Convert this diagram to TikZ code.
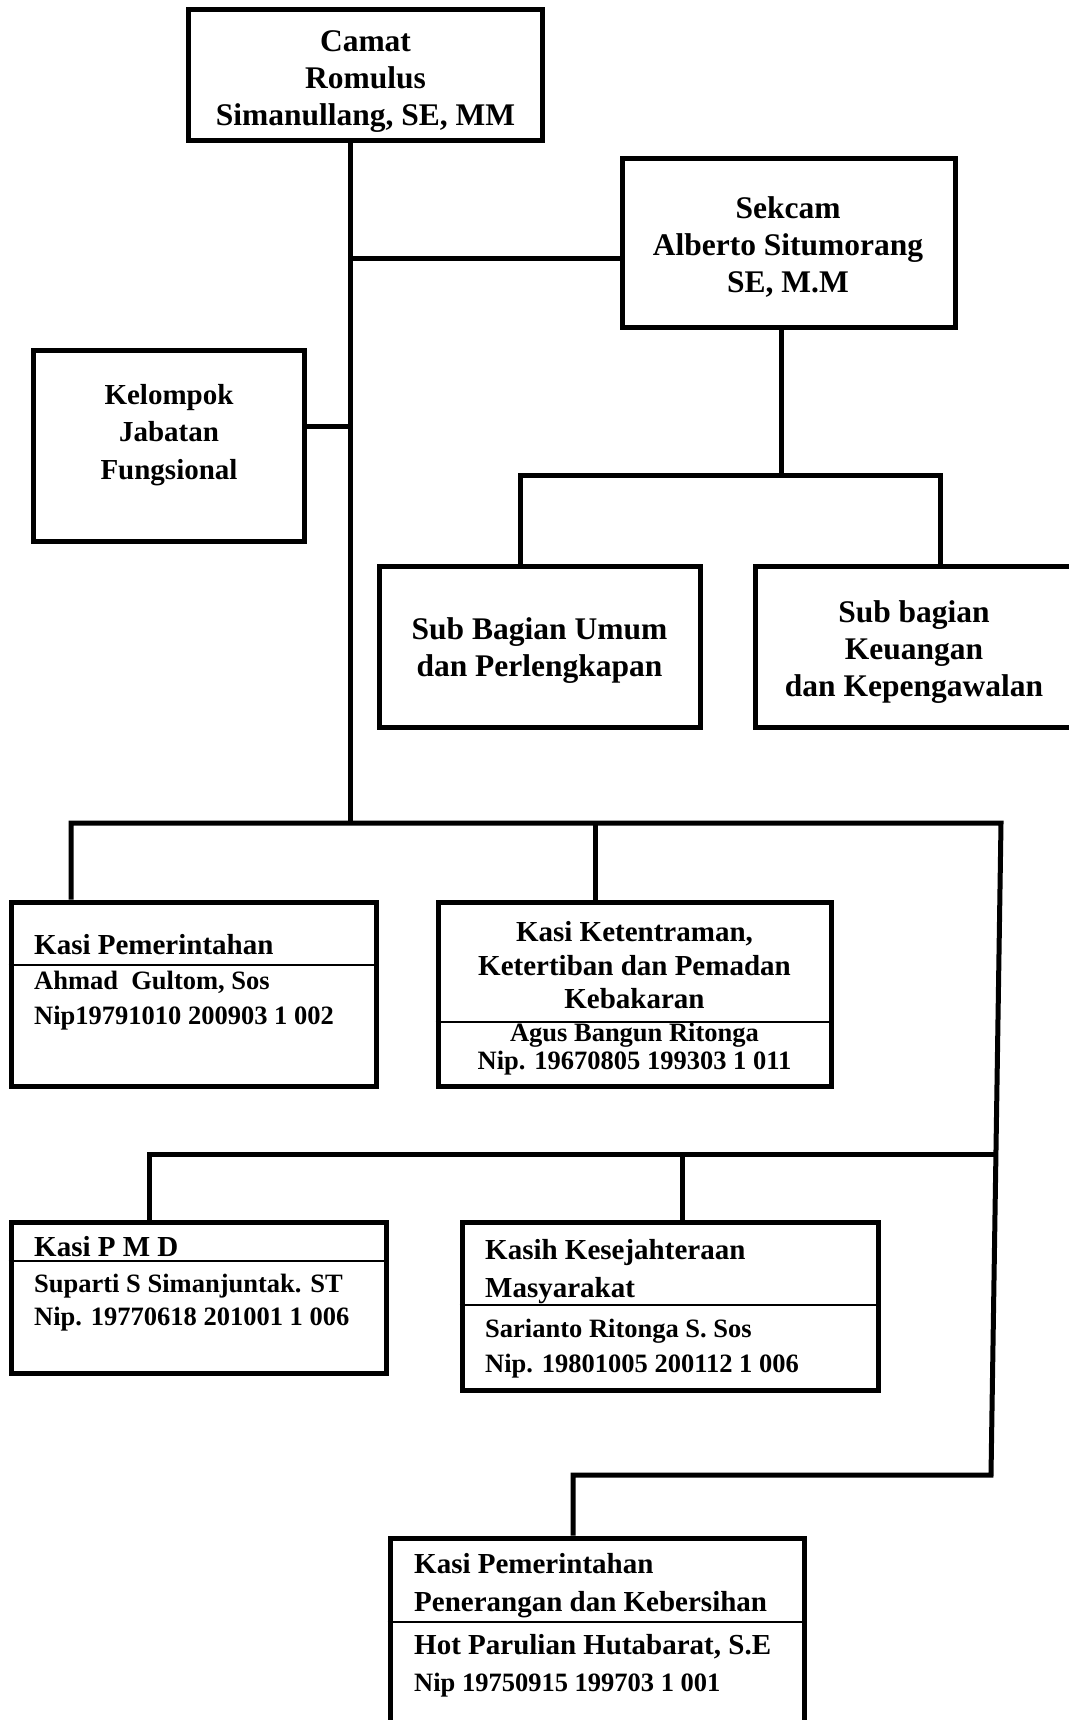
\documentclass[tikz,border=0pt]{standalone}
\usepackage{fontspec}
\setmainfont{Liberation Serif}
\usepackage{tikz}
\usetikzlibrary{positioning,calc}

\begin{document}
\begin{tikzpicture}[
  x=1pt, y=-1pt,
  every node/.style={font=\bfseries},
  box/.style={draw, line width=5pt, inner sep=0pt},
  link/.style={line width=5pt},
  sep/.style={line width=2pt},
  head/.style={font=\fontsize{31.5}{37}\selectfont\bfseries, align=center},
  ttl/.style={font=\fontsize{29}{38}\selectfont\bfseries, inner sep=0pt, anchor=base west, align=left},
  nip/.style={font=\fontsize{26.5}{35}\selectfont\bfseries, inner sep=0pt, anchor=base west, align=left}
]
  \useasboundingbox (0,0) rectangle (1068,1720);

  \node[box, minimum width=353.5pt, minimum height=131pt] (camat) at (365.5,75.5) {};
  \node[head] (camatT) at (365.5,82) {Camat\\Romulus\\Simanullang, SE, MM};
  \node[box, minimum width=333pt, minimum height=168pt] (sekcam) at (788.5,243) {};
  \node[head] (sekcamT) at (788,247.5) {Sekcam\\Alberto Situmorang\\SE, M.M};
  \node[box, minimum width=271pt, minimum height=191pt] (kel) at (168.5,445.5) {};
  \node[head, font=\fontsize{29}{37.5}\selectfont\bfseries] (kelT) at (169,435) {Kelompok\\Jabatan\\Fungsional};
  \node[box, minimum width=321pt, minimum height=161pt] (umum) at (539.5,646.5) {};
  \node[head] (umumT) at (539.5,651) {Sub Bagian Umum\\dan Perlengkapan};
  \node[box, minimum width=320pt, minimum height=161pt] (keu) at (915,646.5) {};
  \node[head] (keuT) at (914,652) {Sub bagian\\Keuangan\\dan Kepengawalan};

  \node[box, minimum width=365pt, minimum height=184pt] (pem) at (193.5,994) {};
  \node[box, minimum width=393pt, minimum height=184pt] (ket) at (634.5,994) {};
  \node[box, minimum width=375pt, minimum height=151pt] (pmd) at (198.5,1297.5) {};
  \node[box, minimum width=416pt, minimum height=168pt] (kes) at (670,1306) {};
  \node[box, minimum width=414pt, minimum height=192pt] (ppk) at (597,1634) {};

  \draw[sep] (pem.west |- 0,965) -- (pem.east |- 0,965);
  \draw[sep] (ket.west |- 0,1022) -- (ket.east |- 0,1022);
  \draw[sep] (pmd.west |- 0,1261) -- (pmd.east |- 0,1261);
  \draw[sep] (kes.west |- 0,1305) -- (kes.east |- 0,1305);
  \draw[sep] (ppk.west |- 0,1622) -- (ppk.east |- 0,1622);

  \node[ttl] (pemT) at (34,954.5) {Kasi Pemerintahan};
  \node[nip] (pemN) at (34,1024.7) {Ahmad~~Gultom, Sos\\Nip19791010 200903 1 002};
  \node[ttl, anchor=base, align=center, font=\fontsize{29}{33.5}\selectfont\bfseries] (ketT) at (634.5,1008.5) {Kasi Ketentraman,\\Ketertiban dan Pemadan\\Kebakaran};
  \node[nip, anchor=base, align=center, font=\fontsize{26.5}{28}\selectfont\bfseries] (ketN) at (634.5,1069.7) {Agus Bangun Ritonga\\Nip. 19670805 199303 1 011};
  \node[ttl] (pmdT) at (34,1256.5) {Kasi P M D};
  \node[nip, font=\fontsize{26.5}{33}\selectfont\bfseries] (pmdN) at (34,1325.7) {Suparti S Simanjuntak. ST\\Nip. 19770618 201001 1 006};
  \node[ttl] (kesT) at (485,1297.5) {Kasih Kesejahteraan\\Masyarakat};
  \node[nip] (kesN) at (485,1372.7) {Sarianto Ritonga S. Sos\\Nip. 19801005 200112 1 006};
  \node[ttl] (ppkT) at (414,1611.5) {Kasi Pemerintahan\\Penerangan dan Kebersihan};
  \node[ttl] (ppkH) at (414,1654.5) {Hot Parulian Hutabarat, S.E};
  \node[nip] (ppkN) at (414,1691.7) {Nip 19750915 199703 1 001};

  \coordinate (j0) at (350,259);
  \coordinate (j1) at (350,426);
  \coordinate (j2) at (350,823);
  \coordinate (s0) at (781,475);
  \coordinate (b1l) at (71,823);
  \coordinate (b1r) at (1001,823);
  \coordinate (b2l) at (149,1154);
  \coordinate (b2r) at (996,1154);
  \coordinate (rdn) at (991,1475);
  \coordinate (ldn) at (573,1475);

  \draw[link] (camat.south -| j2) -- (j2);
  \draw[link] (j0) -- (sekcam.west |- j0);
  \draw[link] (kel.east |- j1) -- (j1);
  \draw[link] (sekcam.south -| s0) -- (s0);
  \draw[link] (umum.north -| 520,0) -- (520,475) -- (940,475) -- (keu.north -| 940,0);
  \draw[link] (pem.north -| b1l) -- (b1l) -- (b1r) -- (rdn) -- (ldn) -- (ppk.north -| ldn);
  \draw[link] (ket.north -| 595,0) -- (595,823);
  \draw[link] (pmd.north -| b2l) -- (b2l) -- (b2r);
  \draw[link] (kes.north -| 682,0) -- (682,1154);
\end{tikzpicture}
\end{document}
